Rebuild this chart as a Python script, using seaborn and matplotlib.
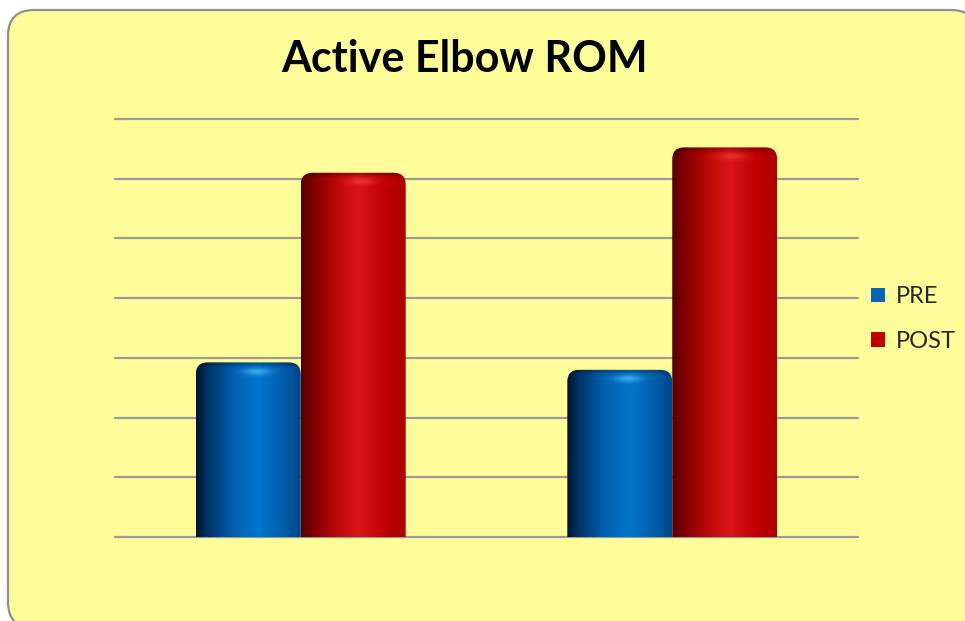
import numpy as np
import pandas as pd
import matplotlib
matplotlib.use("Agg")
import matplotlib.pyplot as plt
import seaborn as sns
from matplotlib.patches import FancyBboxPatch, Patch

# ---- data ----
groups = ["Group 1", "Group 2"]
phases = ["PRE", "POST"]
pre_values = [58.5, 56.0]
post_values = [122.0, 130.5]
y_ticks = [0, 20, 40, 60, 80, 100, 120, 140]
title = "Active Elbow ROM"

df = pd.DataFrame({
    "group": groups * 2,
    "phase": ["PRE"] * len(groups) + ["POST"] * len(groups),
    "value": pre_values + post_values,
})

BLUE = "#0A66B4"
RED = "#C00000"

sns.set_theme(style="white")
plt.rcParams["font.family"] = ["Lato", "DejaVu Sans"]

W, H = 965, 621
fig = plt.figure(figsize=(W / 100, H / 100), dpi=100)
fig.patch.set_facecolor("white")

# rounded yellow chart area
bg = FancyBboxPatch((8 / 100, -7 / 100), (977 - 8) / 100, (628 - 10) / 100,
                    boxstyle="round,pad=0,rounding_size=0.26",
                    transform=fig.dpi_scale_trans, facecolor="#FFFD9A",
                    edgecolor="#8E8E8E", linewidth=1.6, zorder=-5)
fig.patches.append(bg)

ax = fig.add_axes([115 / W, 84 / H, 743 / W, 418 / H])
ax.set_facecolor("none")

sns.barplot(data=df, x="group", y="value", hue="phase", hue_order=phases,
            palette=[BLUE, RED], width=0.565, saturation=1, ax=ax,
            legend=False, edgecolor="none")

ax.set_ylim(y_ticks[0], y_ticks[-1])
ax.set_yticks(y_ticks)
ax.set_xlim(-0.5, len(groups) - 0.5)
ax.grid(axis="y", color="#9A9A9A", linewidth=1.6)
ax.grid(axis="x", visible=False)
ax.set_axisbelow(True)
for gl in ax.get_ygridlines():
    gl.set_clip_on(False)
for s in ax.spines.values():
    s.set_visible(False)
ax.set_xticks([])
ax.tick_params(left=False, labelleft=False, bottom=False, labelbottom=False)
ax.set_xlabel("")
ax.set_ylabel("")

# cylinder shading
stops = {
    BLUE: ([0.0, 0.12, 0.35, 0.6, 0.85, 1.0],
           [(0, 22, 48), (0, 55, 105), (0, 95, 175), (0, 118, 205), (0, 92, 170), (0, 70, 135)],
           (120, 215, 255)),
    RED: ([0.0, 0.12, 0.35, 0.55, 0.8, 1.0],
          [(85, 0, 0), (130, 0, 0), (190, 8, 8), (218, 22, 22), (192, 0, 0), (175, 0, 0)],
          (255, 70, 70)),
}

xpx = (ax.transData.transform((1, 0))[0] - ax.transData.transform((0, 0))[0])
ypx = (ax.transData.transform((0, 1))[1] - ax.transData.transform((0, 0))[1])
xu = 1 / xpx  # x data units per pixel
yu = 1 / ypx

for container, col in zip(ax.containers, [BLUE, RED]):
    pos, cols, hl = stops[col]
    for bar in container:
        x0, w, h = bar.get_x(), bar.get_width(), bar.get_height()
        nx = max(int(w * xpx), 2)
        ny = max(int(h * ypx), 2)
        t = np.linspace(0, 1, nx)
        rgb = np.stack([np.interp(t, pos, [c[i] for c in cols]) for i in range(3)], axis=-1) / 255.0
        img = np.repeat(rgb[None, :, :], ny, axis=0)
        yy = np.arange(ny)[:, None].astype(float)
        rim = np.exp(-((yy - 1.5) / 2.5) ** 2) * 0.25
        img = img * (1 - rim[..., None])
        spot = np.exp(-((t[None, :] - 0.58) / 0.13) ** 2) * np.exp(-((yy - 9) / 3.5) ** 2) * 0.5
        img = img * (1 - spot[..., None]) + (np.array(hl) / 255.0)[None, None, :] * spot[..., None]
        im = ax.imshow(img, extent=(x0, x0 + w, 0, h), origin="upper",
                       aspect="auto", interpolation="bilinear", zorder=3)
        r = 12 * xu
        clip = FancyBboxPatch((x0, -20 * yu), w, h + 20 * yu,
                              boxstyle=f"round,pad=0,rounding_size={r}",
                              mutation_aspect=yu / xu, transform=ax.transData,
                              facecolor="none", edgecolor="none")
        im.set_clip_path(clip)
        bar.set_facecolor("none")

ax.set_ylim(y_ticks[0], y_ticks[-1])
ax.set_xlim(-0.5, len(groups) - 0.5)

fig.text(465 / W, 1 - 59 / H, title, ha="center", va="center",
         fontsize=31, fontweight="bold", color="black")

handles = [Patch(facecolor=c, edgecolor="none", label=p) for p, c in zip(phases, [BLUE, RED])]
fig.legend(handles=handles, loc="center left", bbox_to_anchor=(871 / W, 1 - 319 / H),
           frameon=False, fontsize=17, handlelength=0.58, handleheight=0.58,
           handletextpad=0.48, labelspacing=1.0, borderpad=0, borderaxespad=0)

fig.savefig("out.png", dpi=100, facecolor="white")
